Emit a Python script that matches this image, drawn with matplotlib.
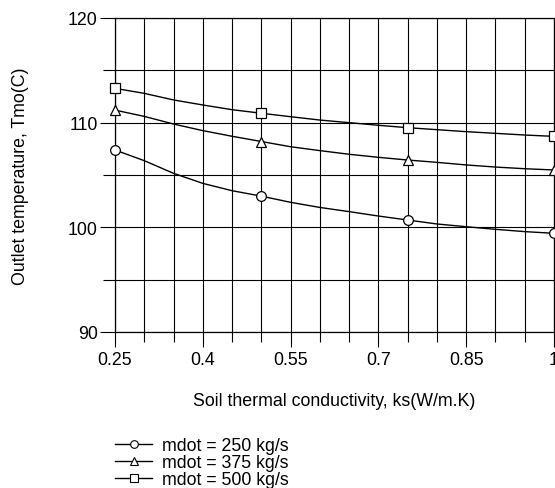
import matplotlib
matplotlib.use("Agg")
import matplotlib.pyplot as plt
from matplotlib.lines import Line2D
from matplotlib.ticker import MultipleLocator, FixedLocator

plt.rcParams['font.family'] = ['Liberation Sans', 'DejaVu Sans']

ks = [0.25, 0.30, 0.35, 0.40, 0.45, 0.50, 0.55, 0.60, 0.65, 0.70,
      0.75, 0.80, 0.85, 0.90, 0.95, 1.00]
t_250 = [107.39, 106.37, 105.16, 104.20, 103.50, 102.98, 102.39, 101.90,
         101.50, 101.08, 100.70, 100.32, 100.06, 99.81, 99.59, 99.43]
t_375 = [111.20, 110.60, 109.87, 109.24, 108.70, 108.20, 107.70, 107.33,
         106.98, 106.69, 106.43, 106.21, 105.96, 105.76, 105.60, 105.48]
t_500 = [113.28, 112.80, 112.17, 111.69, 111.24, 110.90, 110.57, 110.25,
         110.00, 109.75, 109.52, 109.33, 109.14, 108.98, 108.82, 108.69]
labels = ['mdot = 250 kg/s', 'mdot = 375 kg/s', 'mdot = 500 kg/s']
markers = ['o', '^', 's']
series = [t_250, t_375, t_500]

xticks = [0.25, 0.4, 0.55, 0.7, 0.85, 1.0]
xticklabels = ['0.25', '0.4', '0.55', '0.7', '0.85', '1']
yticks = [90, 100, 110, 120]

FS = 12.8
W, H = 555, 489
fig = plt.figure(figsize=(W / 100, H / 100), dpi=100)
ax = fig.add_axes([115 / W, 1 - 333 / H, 439 / W, 314 / H])

for y, m in zip(series, markers):
    ax.plot(ks, y, color='black', lw=1.0, marker=m, markevery=5,
            markersize=7, markerfacecolor='white', markeredgecolor='black',
            markeredgewidth=0.9, clip_on=False, zorder=3)

ax.set_xlim(0.25, 1.0)
ax.set_ylim(90, 120)
ax.xaxis.set_major_locator(FixedLocator(xticks))
ax.set_xticklabels(xticklabels)
ax.xaxis.set_minor_locator(MultipleLocator(0.05))
ax.yaxis.set_major_locator(FixedLocator(yticks))
ax.yaxis.set_minor_locator(MultipleLocator(5))

ax.grid(True, which='both', color='black', lw=0.8)
ax.set_axisbelow(True)
ax.tick_params(axis='both', which='major', direction='out', length=11,
               width=0.8, labelsize=FS)
ax.tick_params(axis='x', which='major', pad=3)
ax.tick_params(axis='y', which='major', pad=1.5)
ax.tick_params(axis='x', which='minor', direction='out', length=7, width=0.8)
ax.tick_params(axis='y', which='minor', direction='out', length=9, width=0.8)
for s in ax.spines.values():
    s.set_linewidth(0.9)

ax.set_xlabel('Soil thermal conductivity, ks(W/m.K)', fontsize=FS, labelpad=17)
ax.set_ylabel('Outlet temperature, Tmo(C)', fontsize=FS, labelpad=28)

handles = [Line2D([], [], color='black', lw=1.0, marker=m, markersize=5.5,
                  markerfacecolor='white', markeredgecolor='black',
                  markeredgewidth=0.8) for m in markers]
fig.legend(handles, labels, loc='upper left',
           bbox_to_anchor=(115 / W, 1 - 438 / H), frameon=False,
           fontsize=FS, handlelength=2.1, handletextpad=0.55,
           labelspacing=0.0, borderpad=0, borderaxespad=0)

fig.savefig('out.png', dpi=100)
